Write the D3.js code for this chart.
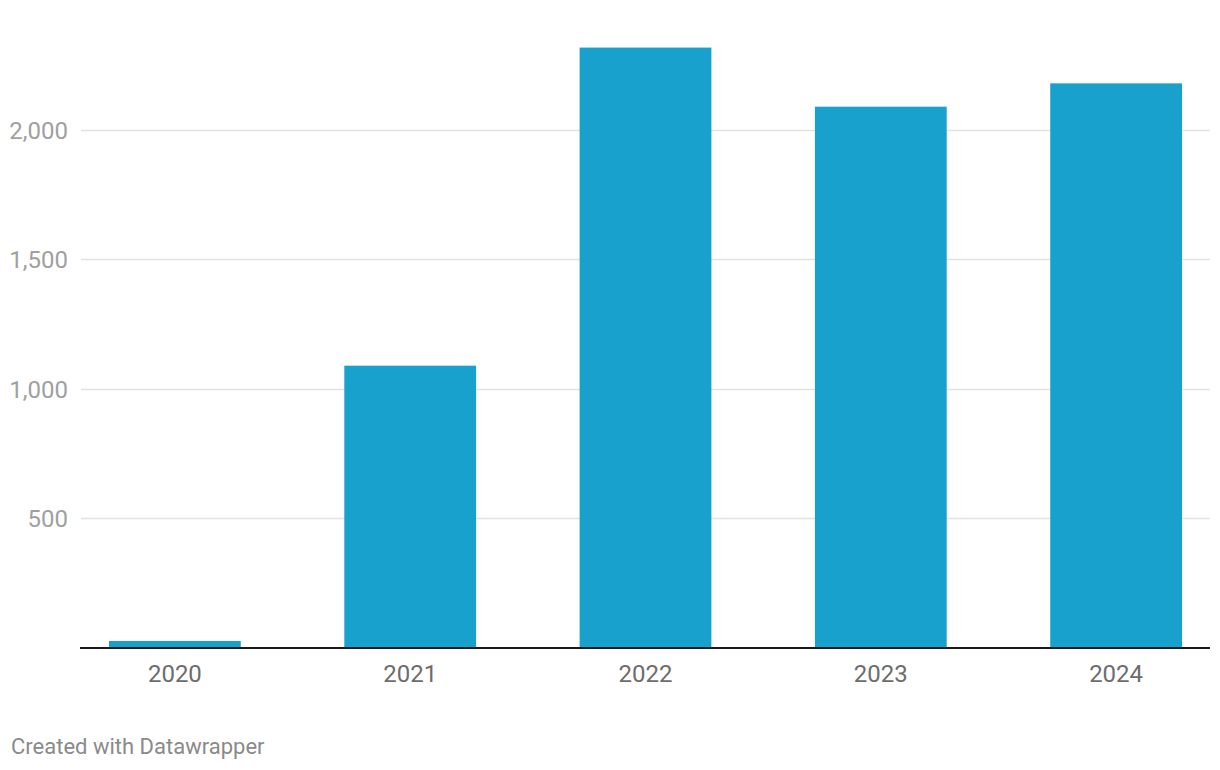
<!DOCTYPE html>
<html>
<head>
<meta charset="utf-8">
<script src="https://cdn.jsdelivr.net/npm/d3@7"></script>
<style>
  body { margin: 0; background: #fff; font-family: Roboto, "Noto Sans", sans-serif; }
</style>
</head>
<body>
<script>
const years = ["2020", "2021", "2022", "2023", "2024"];
const values = [27, 1089, 2316, 2088, 2178];
const yTicks = [500, 1000, 1500, 2000];

const width = 1220;
const height = 770;
const baseline = 648;
const barColor = "#18a1cd";

const x = d3.scaleBand().domain(years).range([109, 1182]).paddingInner(0.44).paddingOuter(0);
const y = d3.scaleLinear().domain([0, 2000]).range([baseline, 129.5]);

const svg = d3.select("body").append("svg")
  .attr("width", width)
  .attr("height", height);

// grid lines + y labels
const grid = svg.append("g");
grid.selectAll("line")
  .data(yTicks)
  .enter()
  .append("line")
  .attr("x1", 81)
  .attr("x2", 1210)
  .attr("y1", d => Math.round(y(d)) + 0.5)
  .attr("y2", d => Math.round(y(d)) + 0.5)
  .attr("stroke", "#e2e2e2")
  .attr("stroke-width", 1.5);

grid.selectAll("text")
  .data(yTicks)
  .enter()
  .append("text")
  .attr("x", 68)
  .attr("y", d => y(d) + 9)
  .attr("text-anchor", "end")
  .attr("font-size", 24)
  .attr("fill", "#a0a0a0")
  .text(d => d3.format(",")(d));

// bars
svg.append("g").selectAll("rect")
  .data(values)
  .enter()
  .append("rect")
  .attr("x", (d, i) => x(years[i]))
  .attr("width", x.bandwidth())
  .attr("y", d => y(d))
  .attr("height", d => baseline - y(d))
  .attr("fill", barColor);

// baseline
svg.append("line")
  .attr("x1", 80)
  .attr("x2", 1210)
  .attr("y1", baseline)
  .attr("y2", baseline)
  .attr("stroke", "#1a1a1a")
  .attr("stroke-width", 2);

// x labels
svg.append("g").selectAll("text")
  .data(years)
  .enter()
  .append("text")
  .attr("x", d => x(d) + x.bandwidth() / 2)
  .attr("y", 682)
  .attr("text-anchor", "middle")
  .attr("font-size", 24)
  .attr("fill", "#6d6d6d")
  .text(d => d);

svg.append("text")
  .attr("x", 11)
  .attr("y", 754)
  .attr("font-size", 22)
  .attr("fill", "#8a8a8a")
  .text("Created with Datawrapper");
</script>
</body>
</html>
